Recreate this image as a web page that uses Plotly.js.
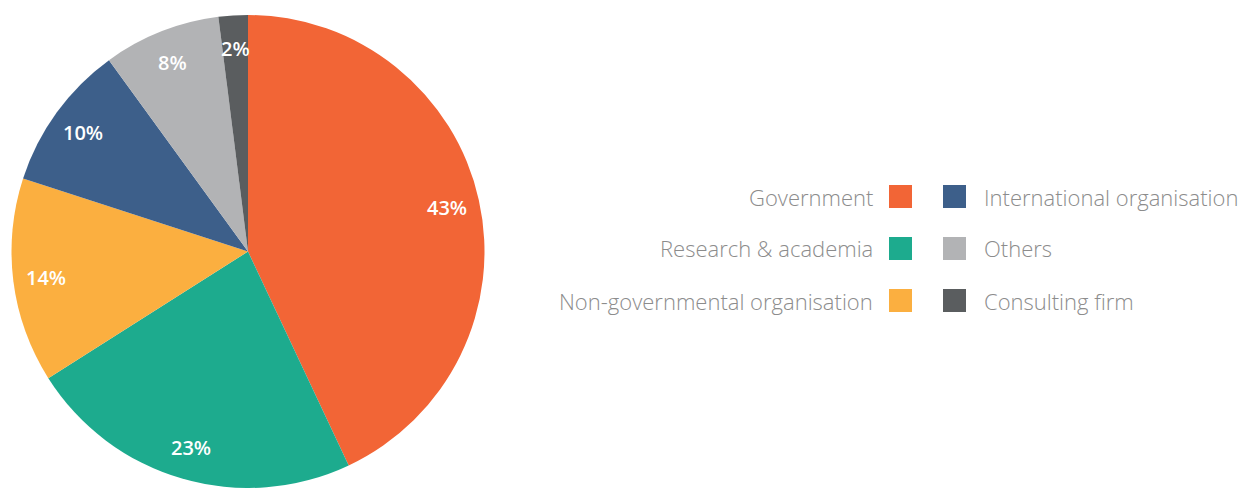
<!DOCTYPE html>
<html>
<head>
<meta charset="utf-8">
<script src="https://cdn.plot.ly/plotly-3.0.1.min.js"></script>
<style>html,body{margin:0;padding:0;background:#fff;}#chart{width:1248px;height:488px;}</style>
</head>
<body>
<div id="chart"></div>
<script>
const labels = ["Government", "Research & academia", "Non-governmental organisation", "International organisation", "Others", "Consulting firm"];
const values = [43, 23, 14, 10, 8, 2];
const colors = ["#F26536", "#1DAB8E", "#FBAF40", "#3D5F8A", "#B2B3B5", "#5A5D5F"];
const legendColumns = [[0, 1, 2], [3, 4, 5]];

const W = 1248, H = 488;
const cx = 248, cy = 252, R = 237;
const marginTop = cy - R;

const trace = {
  type: "pie",
  labels: labels,
  values: values,
  sort: false,
  direction: "clockwise",
  rotation: 0,
  marker: {colors: colors, line: {width: 0}},
  textinfo: "none",
  hoverinfo: "label+percent",
  domain: {x: [(cx - R) / W, (cx + R) / W], y: [0, 1]},
  showlegend: false
};

// percent labels placed at slice mid-angles
const total = values.reduce((a, b) => a + b, 0);
const annotations = [];
let cum = 0;
const plotH = H - marginTop;
values.forEach((v, i) => {
  const mid = (cum + v / 2) / total * 2 * Math.PI;
  cum += v;
  const r = R * 0.86;
  const px = cx + r * Math.sin(mid);
  const py = cy - r * Math.cos(mid);
  annotations.push({
    xref: "paper", yref: "paper",
    x: px / W, y: 1 - (py - marginTop) / plotH,
    text: Math.round(v / total * 100) + "%",
    showarrow: false,
    xanchor: "center", yanchor: "middle",
    font: {family: "Open Sans", size: 20, color: "#ffffff", weight: 600}
  });
});

// custom legend
const shapes = [];
const rowY = [196.5, 248.5, 300.5];
const swX = [[889, 912], [943, 966]];
const sw = 23;
legendColumns.forEach((col, c) => {
  col.forEach((idx, r) => {
    const y0 = rowY[r] - sw / 2, y1 = rowY[r] + sw / 2;
    shapes.push({
      type: "rect", xref: "paper", yref: "paper",
      x0: swX[c][0] / W, x1: swX[c][1] / W,
      y0: 1 - (y1 - marginTop) / plotH, y1: 1 - (y0 - marginTop) / plotH,
      fillcolor: colors[idx], line: {width: 0}
    });
    annotations.push({
      xref: "paper", yref: "paper",
      x: c === 0 ? 875 / W : 982 / W,
      y: 1 - (rowY[r] - marginTop) / plotH,
      text: labels[idx],
      showarrow: false,
      xanchor: c === 0 ? "right" : "left", yanchor: "middle",
      font: {family: "Open Sans", size: 22, color: "#8c8c8c", weight: 300}
    });
  });
});

const layout = {
  width: W, height: H,
  margin: {l: 0, r: 0, t: marginTop, b: 0},
  paper_bgcolor: "#ffffff",
  plot_bgcolor: "#ffffff",
  showlegend: false,
  annotations: annotations,
  shapes: shapes
};

Plotly.newPlot("chart", [trace], layout, {displayModeBar: false, staticPlot: true});
</script>
</body>
</html>
